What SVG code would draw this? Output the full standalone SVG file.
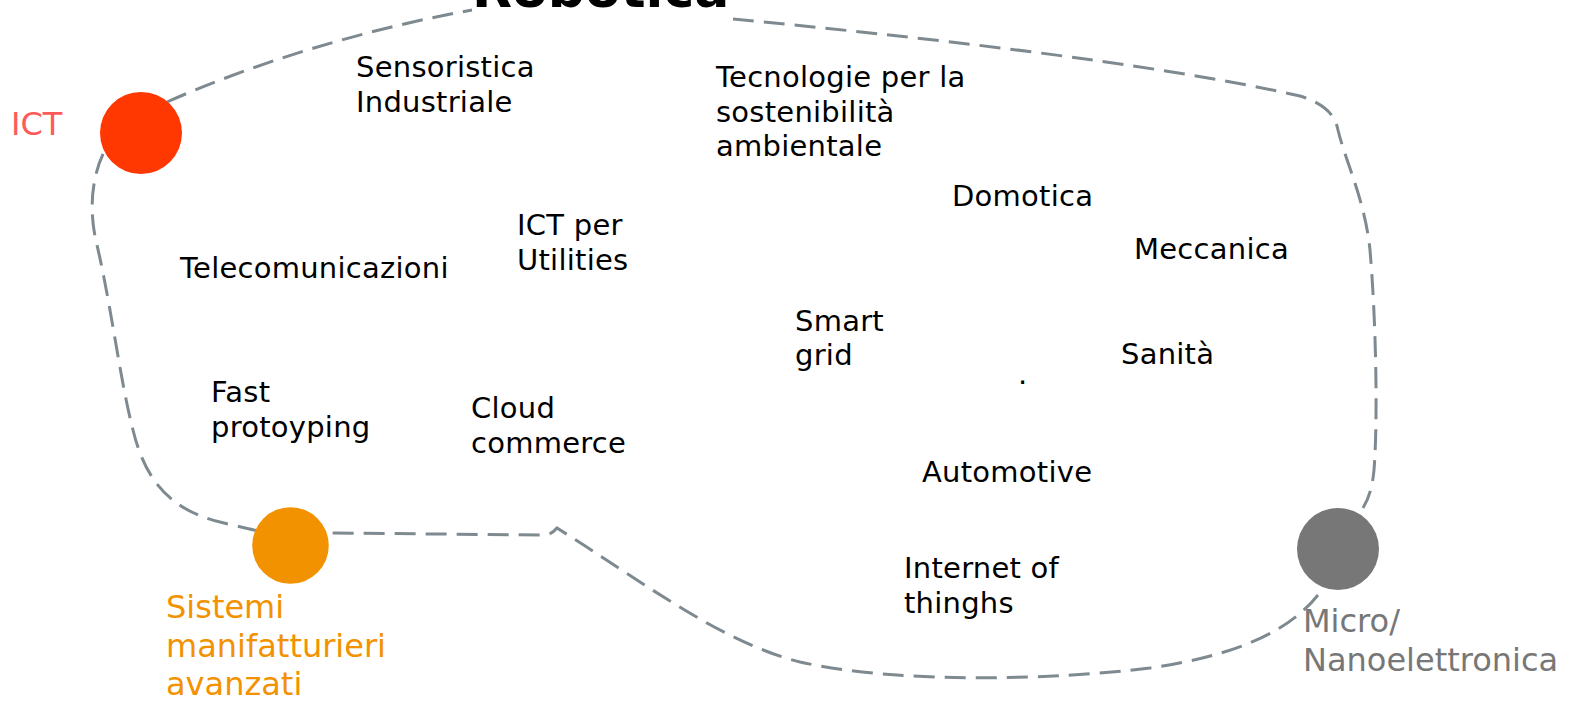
<svg xmlns="http://www.w3.org/2000/svg" width="1577" height="701" viewBox="0 0 1577 701">
<style>
.t{font-family:"DejaVu Sans","Verdana",sans-serif;font-size:29px;letter-spacing:0.25px;fill:#000}
.lbl{font-family:"DejaVu Sans","Verdana",sans-serif;font-size:32px}
.title{font-family:"DejaVu Sans","Verdana",sans-serif;font-size:52px;font-weight:bold;fill:#000}
.dash{fill:none;stroke:#7E8A90;stroke-width:3;stroke-dasharray:21 10}
</style>
<rect width="1577" height="701" fill="#fff"/>
<g id="connectors">
<path class="dash" d="M167,102 C250,65 360,30 472,10"/>
<path class="dash" d="M733,19 C900,35 1150,62 1300,96 C1325,104 1335,115 1338,130 C1345,160 1365,200 1370,250 C1376,320 1378,420 1374,470 C1372,490 1368,500 1363,508"/>
<path class="dash" d="M1318,595 C1290,630 1240,655 1150,668 C1050,680 900,684 800,662 C720,642 640,580 557,528 C552,534 548,535 540,535 L330,533"/>
<path class="dash" d="M258,531 C250,529 240,527 220,522 C170,510 145,480 133,430 C120,380 112,310 97,245 C88,210 92,175 105,150"/>
</g>
<g id="title"><text class="title" x="472" y="7">Robotica</text></g>
<g id="ict">
<circle cx="141" cy="133" r="41" fill="#FF3700"/>
<text class="lbl" x="11" y="135" fill="#FF5A5A">ICT</text>
</g>
<g id="sistemi">
<circle cx="290.5" cy="545.5" r="38.3" fill="#F39200"/>
<text class="lbl" fill="#F39200"><tspan x="166" y="618">Sistemi</tspan><tspan x="166" y="656.5">manifatturieri</tspan><tspan x="166" y="695">avanzati</tspan></text>
</g>
<g id="micro">
<circle cx="1338" cy="549" r="41" fill="#777777"/>
<text class="lbl" fill="#777777"><tspan x="1303" y="632">Micro/</tspan><tspan x="1303" y="670.5">Nanoelettronica</tspan></text>
</g>
<g id="sensoristica"><text class="t"><tspan x="356" y="77">Sensoristica</tspan><tspan x="356" y="112">Industriale</tspan></text></g>
<g id="tecnologie"><text class="t"><tspan x="716" y="87">Tecnologie per la</tspan><tspan x="716" y="121.5">sostenibilità</tspan><tspan x="716" y="156">ambientale</tspan></text></g>
<g id="telecomunicazioni"><text class="t" x="180" y="278">Telecomunicazioni</text></g>
<g id="ictutilities"><text class="t"><tspan x="517" y="235">ICT per</tspan><tspan x="517" y="270">Utilities</tspan></text></g>
<g id="domotica"><text class="t" x="952" y="206">Domotica</text></g>
<g id="meccanica"><text class="t" x="1134" y="259">Meccanica</text></g>
<g id="smartgrid"><text class="t"><tspan x="795" y="331">Smart</tspan><tspan x="795" y="365">grid</tspan></text></g>
<g id="sanita"><text class="t" x="1121" y="364">Sanità</text></g>
<g id="dot"><text class="t" x="1018" y="384">.</text></g>
<g id="fast"><text class="t"><tspan x="211" y="402">Fast</tspan><tspan x="211" y="436.5">protoyping</tspan></text></g>
<g id="cloud"><text class="t"><tspan x="471" y="418">Cloud</tspan><tspan x="471" y="453">commerce</tspan></text></g>
<g id="automotive"><text class="t" x="922" y="482">Automotive</text></g>
<g id="iot"><text class="t"><tspan x="904" y="578">Internet of</tspan><tspan x="904" y="612.5">thinghs</tspan></text></g>
</svg>
